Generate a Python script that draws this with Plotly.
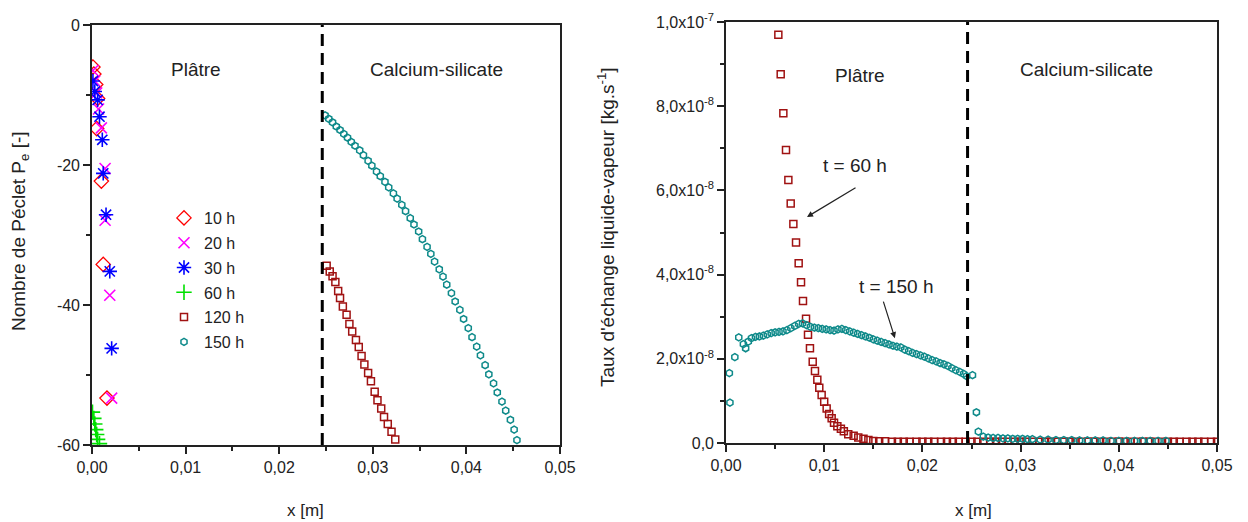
import plotly.graph_objects as go

W, H = 1248, 522
OFF = 8  # page body margin offset in the screenshot

# ---------------- data: left panel (Peclet number) ----------------
x_10h = [0.0001, 0.0002, 0.0004, 0.0006, 0.0005, 0.001, 0.0012, 0.0016]
y_10h = [-6.0, -7.0, -8.5, -10.5, -14.8, -22.3, -34.2, -53.3]

x_20h = [0.0001, 0.0003, 0.0005, 0.0007, 0.001, 0.0014, 0.0014, 0.0019, 0.0021]
y_20h = [-6.5, -8.0, -9.7, -12.0, -14.7, -20.5, -27.9, -38.6, -53.3]

x_30h = [0.0001, 0.0003, 0.0006, 0.0008, 0.0011, 0.0012, 0.0015, 0.0019, 0.0021]
y_30h = [-8.0, -9.5, -10.7, -13.1, -16.4, -21.2, -27.1, -35.2, -46.2]

x_60h = [0.00005, 0.0002, 0.0003, 0.0004, 0.0005, 0.0006, 0.0008]
y_60h = [-55.3, -56.2, -57.0, -57.8, -58.5, -59.2, -59.8]

x_120h = [0.02507, 0.0254, 0.0257, 0.026, 0.0263, 0.0265, 0.0268, 0.0272,
          0.0275, 0.0278, 0.0282, 0.0285, 0.0288, 0.0291, 0.0295, 0.0298,
          0.0302, 0.0305, 0.0309, 0.0312, 0.0316, 0.032, 0.0324]
y_120h = [-34.4, -35.2, -35.9, -36.7, -38.0, -39.0, -40.2, -41.4,
          -42.7, -43.8, -45.0, -46.0, -47.3, -48.5, -49.7, -50.9,
          -52.4, -53.6, -54.8, -56.0, -57.0, -58.1, -59.2]

x_150h = [0.0249, 0.0253, 0.0257, 0.0261, 0.0265, 0.0269, 0.0273, 0.0277,
          0.0281, 0.0286, 0.029, 0.0295, 0.0299, 0.0304, 0.0308, 0.0313,
          0.0317, 0.0322, 0.0326, 0.0331, 0.0335, 0.034, 0.0344, 0.0349,
          0.0353, 0.0358, 0.0362, 0.0366, 0.0371, 0.0375, 0.0379, 0.0384,
          0.0388, 0.0393, 0.0397, 0.0402, 0.0406, 0.0411, 0.0415, 0.042,
          0.0424, 0.0429, 0.0433, 0.0438, 0.0442, 0.0447, 0.0451, 0.0454]
y_150h = [-12.9, -13.4, -13.9, -14.5, -15.0, -15.55, -16.1, -16.7,
          -17.25, -17.9, -18.6, -19.4, -20.1, -20.95, -21.6, -22.4,
          -23.2, -24.05, -24.8, -25.7, -26.6, -27.6, -28.5, -29.5,
          -30.6, -31.7, -32.7, -33.8, -34.9, -35.95, -37.1, -38.3,
          -39.5, -40.7, -42.0, -43.3, -44.6, -45.95, -47.2, -48.6,
          -49.9, -51.2, -52.5, -53.8, -55.1, -56.4, -57.8, -59.3]

# ---------------- data: right panel (exchange rate, in 1e-8 kg/s) ----------------
rx_60h = [0.00533, 0.00557, 0.00584, 0.00611, 0.00635, 0.00659, 0.00686, 0.00713,
          0.0074, 0.00764, 0.00784, 0.00815, 0.00835, 0.00855, 0.00883, 0.00906,
          0.0093, 0.0095, 0.00974, 0.01, 0.01025, 0.0105, 0.01076, 0.011,
          0.01134, 0.0117, 0.012, 0.01245, 0.013, 0.01347, 0.014, 0.0145,
          0.015, 0.0156, 0.0162, 0.0169, 0.0175, 0.0181, 0.0187, 0.0194,
          0.02, 0.0206, 0.0212, 0.0219, 0.0225, 0.0231, 0.0237, 0.0244,
          0.025, 0.0256, 0.0262, 0.0269, 0.0275, 0.0281, 0.0287, 0.0294,
          0.03, 0.0306, 0.0312, 0.0319, 0.0325, 0.0331, 0.0337, 0.0344,
          0.035, 0.0356, 0.0362, 0.0369, 0.0375, 0.0381, 0.0387, 0.0394,
          0.04, 0.0406, 0.0412, 0.0419, 0.0425, 0.0431, 0.0437, 0.0444,
          0.045, 0.0456, 0.0462, 0.0469, 0.0475, 0.0481, 0.0487, 0.0494, 0.05]
ry_60h = [9.70, 8.76, 7.83, 6.96, 6.25, 5.69, 5.20, 4.76,
          4.27, 3.82, 3.37, 2.95, 2.57, 2.25, 1.93, 1.71,
          1.50, 1.31, 1.14, 0.98, 0.82, 0.69, 0.59, 0.48,
          0.40, 0.34, 0.28, 0.21, 0.17, 0.13, 0.10, 0.07,
          0.05, 0.04, 0.04, 0.03, 0.03, 0.03, 0.03, 0.03,
          0.03, 0.03, 0.03, 0.03, 0.03, 0.03, 0.03, 0.03,
          0.03, 0.03, 0.03, 0.03, 0.03, 0.03, 0.03, 0.03,
          0.03, 0.03, 0.03, 0.03, 0.03, 0.03, 0.03, 0.03,
          0.03, 0.03, 0.03, 0.03, 0.03, 0.03, 0.03, 0.03,
          0.03, 0.03, 0.03, 0.03, 0.03, 0.03, 0.03, 0.03,
          0.03, 0.03, 0.03, 0.03, 0.03, 0.03, 0.03, 0.03, 0.03]

rx_150h = [0.0004, 0.00034, 0.0009, 0.0013, 0.00177, 0.002, 0.00227, 0.0026,
           0.003, 0.0034, 0.0038, 0.0042, 0.0046, 0.005, 0.0054, 0.0058,
           0.0062, 0.0066, 0.007, 0.0074, 0.0078, 0.0082, 0.0086, 0.009,
           0.0094, 0.0098, 0.0102, 0.0106, 0.011, 0.0114, 0.0118, 0.0122,
           0.0126, 0.013, 0.0134, 0.0138, 0.0142, 0.0146, 0.015, 0.0154,
           0.0158, 0.0162, 0.0166, 0.017, 0.0174, 0.0178, 0.0182, 0.0186,
           0.019, 0.0194, 0.0198, 0.0202, 0.0206, 0.021, 0.0214, 0.0218,
           0.0222, 0.0226, 0.023, 0.0234, 0.0238, 0.0242, 0.0245, 0.0251,
           0.0255, 0.0257, 0.0262, 0.0267, 0.0272, 0.0277, 0.0282, 0.0287,
           0.0292, 0.0297, 0.0302, 0.0307, 0.0312, 0.032, 0.0328, 0.0336,
           0.0344, 0.0352, 0.036, 0.0368, 0.0376, 0.0384, 0.0392, 0.04,
           0.0408, 0.0416, 0.0424, 0.0432, 0.044, 0.0448]
ry_150h = [0.96, 1.66, 2.04, 2.51, 2.35, 2.25, 2.41, 2.49,
           2.52, 2.53, 2.55, 2.58, 2.61, 2.63, 2.64, 2.65,
           2.68, 2.73, 2.78, 2.83, 2.84, 2.80, 2.76, 2.74,
           2.73, 2.71, 2.70, 2.68, 2.67, 2.70, 2.71, 2.68,
           2.65, 2.62, 2.59, 2.56, 2.53, 2.50, 2.46, 2.43,
           2.40, 2.37, 2.34, 2.31, 2.29, 2.27, 2.22, 2.18,
           2.14, 2.11, 2.08, 2.05, 2.01, 1.97, 1.94, 1.90,
           1.87, 1.83, 1.78, 1.73, 1.69, 1.64, 1.59, 1.61,
           0.73, 0.27, 0.15, 0.13, 0.12, 0.12, 0.11, 0.11,
           0.10, 0.10, 0.10, 0.09, 0.09, 0.08, 0.08, 0.07,
           0.07, 0.07, 0.06, 0.06, 0.06, 0.06, 0.05, 0.05,
           0.05, 0.05, 0.05, 0.05, 0.05, 0.05]
RATE_UNIT = 1e-8

# ---------------- labels ----------------
legend_names = ["10 h", "20 h", "30 h", "60 h", "120 h", "150 h"]
left_y_tickvals = [0, -20, -40, -60]
left_y_ticktext = ["0", "-20", "-40", "-60"]
x_tickvals = [0.0, 0.01, 0.02, 0.03, 0.04, 0.05]
x_ticktext = ["0,00", "0,01", "0,02", "0,03", "0,04", "0,05"]
right_y_tickvals = [0, 2e-8, 4e-8, 6e-8, 8e-8, 1e-7]
right_y_ticktext = ["0,0", "2,0x10<sup>-8</sup>", "4,0x10<sup>-8</sup>",
                    "6,0x10<sup>-8</sup>", "8,0x10<sup>-8</sup>", "1,0x10<sup>-7</sup>"]
interface_x = 0.0246

FONT = "Liberation Sans, Arial, sans-serif"

C_RED = "#FF0000"
C_MAG = "#FF00FF"
C_BLUE = "#0000FF"
C_GREEN = "#00E000"
C_DRED = "#A01212"
C_TEAL = "#0E8A8A"


def px(v):
    return (v - OFF) / W


def py(v):
    return 1 - (v - OFF) / H


fig = go.Figure()


def mk(symbol, color, size, lw=1.3):
    return dict(symbol=symbol, size=size, color=color, line=dict(color=color, width=lw))


left_series = [
    (x_10h, y_10h, mk("diamond-open", C_RED, 11)),
    (x_20h, y_20h, mk("x-thin-open", C_MAG, 11, 1.6)),
    (x_30h, y_30h, mk("asterisk-open", C_BLUE, 12, 1.6)),
    (x_60h, y_60h, mk("cross-thin-open", C_GREEN, 11, 1.6)),
    (x_120h, y_120h, mk("square-open", C_DRED, 7, 1.5)),
    (x_150h, y_150h, mk("hexagon-open", C_TEAL, 7, 1.5)),
]
for i, (xs, ys, m) in enumerate(left_series):
    fig.add_trace(go.Scatter(x=xs, y=ys, mode="markers", marker=m, name=legend_names[i],
                             legendgroup=legend_names[i], xaxis="x", yaxis="y"))

fig.add_trace(go.Scatter(x=rx_60h, y=[v * RATE_UNIT for v in ry_60h], mode="markers",
                         marker=mk("square-open", C_DRED, 7, 1.5), showlegend=False,
                         xaxis="x2", yaxis="y2"))
fig.add_trace(go.Scatter(x=rx_150h, y=[v * RATE_UNIT for v in ry_150h], mode="markers",
                         marker=mk("hexagon-open", C_TEAL, 7, 1.5), showlegend=False,
                         xaxis="x2", yaxis="y2"))

axis_common = dict(showgrid=False, zeroline=False, showline=True, linecolor="#222",
                   linewidth=1.6, mirror=True, ticks="outside", ticklen=7, tickwidth=1.5,
                   tickcolor="#222", automargin=False,
                   tickfont=dict(family=FONT, size=16, color="#222"))
minor_common = dict(ticks="outside", ticklen=4, tickwidth=1.5, tickcolor="#222")

fig.update_layout(
    width=W, height=H, margin=dict(l=0, r=0, t=0, b=0, autoexpand=False),
    paper_bgcolor="white", plot_bgcolor="white",
    font=dict(family=FONT, color="#222"),
    xaxis=dict(domain=[px(92), px(560)], range=[0, 0.05], anchor="y",
               tickvals=x_tickvals, ticktext=x_ticktext,
               minor=dict(dtick=0.005, **minor_common), **axis_common),
    yaxis=dict(domain=[py(445), py(25)], range=[-60, 0], anchor="x",
               tickvals=left_y_tickvals, ticktext=left_y_ticktext,
               minor=dict(dtick=10, **minor_common), **axis_common),
    xaxis2=dict(domain=[px(726), px(1217)], range=[0, 0.05], anchor="y2",
                tickvals=x_tickvals, ticktext=x_ticktext,
                minor=dict(dtick=0.005, **minor_common), **axis_common),
    yaxis2=dict(domain=[py(443), py(22)], range=[0, 1e-7], anchor="x2",
                tickvals=right_y_tickvals, ticktext=right_y_ticktext,
                minor=dict(dtick=1e-8, **minor_common), **axis_common),
    legend=dict(x=px(164), y=py(201), xanchor="left", yanchor="top",
                bgcolor="rgba(0,0,0,0)", traceorder="grouped", tracegroupgap=1,
                font=dict(family=FONT, size=16, color="#222"), itemwidth=30),
    showlegend=True,
)

for xr, yr in (("x", "y domain"), ("x2", "y2 domain")):
    fig.add_shape(type="line", xref=xr, yref=yr, x0=interface_x, x1=interface_x, y0=0, y1=1,
                  line=dict(color="black", width=3, dash="12px,7px"))

ann_font = dict(family=FONT, size=19, color="#222")
texts = [
    ("x", "y", 0.0111, -6.4, "Plâtre"),
    ("x", "y", 0.0368, -6.4, "Calcium-silicate"),
    ("x2", "y2", 0.01365, 8.72e-8, "Plâtre"),
    ("x2", "y2", 0.0367, 8.88e-8, "Calcium-silicate"),
    ("x2", "y2", 0.0131, 6.60e-8, "t = 60 h"),
    ("x2", "y2", 0.0173, 3.71e-8, "t = 150 h"),
]
for xr, yr, x, y, t in texts:
    fig.add_annotation(xref=xr, yref=yr, x=x, y=y, text=t, showarrow=False, font=ann_font,
                       xanchor="center", yanchor="middle")

# arrows
fig.add_annotation(xref="x2", yref="y2", x=0.00825, y=5.37e-8, ax=50, ay=-30, text="",
                   showarrow=True, arrowhead=2, arrowsize=1, arrowwidth=1.2, arrowcolor="#222")
fig.add_annotation(xref="x2", yref="y2", x=0.0172, y=2.49e-8, ax=-12, ay=-38, text="",
                   showarrow=True, arrowhead=2, arrowsize=1, arrowwidth=1.2, arrowcolor="#222")

# axis titles
xtitle_font = dict(family=FONT, size=17, color="#222")
ytitle_font = dict(family=FONT, size=19, color="#222")
titles = [
    (305, 510, 0, "x [m]", xtitle_font),
    (973, 510, 0, "x [m]", xtitle_font),
    (20, 231, -90, "Nombre de Péclet P<sub>e</sub> [-]", ytitle_font),
    (606, 227, -90, "Taux d'échange liquide-vapeur [kg.s<sup>-1</sup>]", ytitle_font),
]
for tx, ty, ang, t, f in titles:
    fig.add_annotation(xref="paper", yref="paper", x=px(tx), y=py(ty), textangle=ang,
                       text=t, showarrow=False, font=f, xanchor="center", yanchor="middle")

fig.write_html("out.html")
